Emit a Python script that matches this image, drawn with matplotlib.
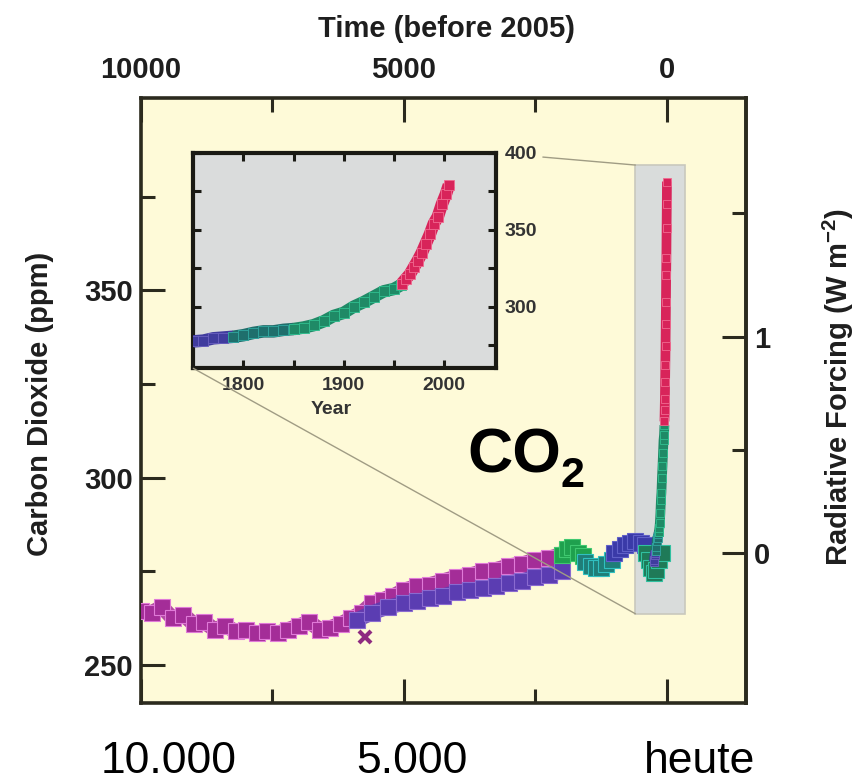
import numpy as np
import matplotlib.pyplot as plt
from matplotlib.patches import Rectangle, ConnectionPatch

plt.rcParams['font.family'] = ['Liberation Sans', 'DejaVu Sans']
plt.rcParams['mathtext.fontset'] = 'custom'
plt.rcParams['mathtext.rm'] = 'Liberation Sans'
plt.rcParams['mathtext.bf'] = 'Liberation Sans:bold'

# ---- Holocene ice-core CO2 (years before 2005, ppm) ----
magenta_t = [10000, 9800, 9600, 9400, 9200, 9000, 8800, 8600, 8400, 8200, 8000,
             7800, 7600, 7400, 7200, 7000, 6800, 6600, 6400, 6200, 6000, 5800,
             5600, 5400, 5200, 5000, 4750, 4500, 4250, 4000, 3750, 3500, 3250,
             3000, 2750, 2500, 2250, 2000, 1800]
magenta_ppm = [264.5, 264, 265.5, 262.5, 263.5, 261, 261.5, 259.5, 260.5, 259, 259.5,
               258.5, 259, 258.5, 259.5, 260.5, 261.5, 259.5, 260, 261, 262.5, 264,
               266.5, 267.5, 268.5, 270, 271, 271.5, 272.5, 273.5, 274, 275, 275.5,
               276.5, 277, 278, 278.5, 279.5, 280]
outlier_t = [5750]
outlier_ppm = [257.5]

purple_t = [5900, 5600, 5300, 5000, 4750, 4500, 4250, 4000, 3750, 3500, 3250,
            3000, 2750, 2500, 2250, 2000]
purple_ppm = [262, 264, 265.5, 266.5, 267, 268, 268.5, 269.5, 270, 270.5, 271,
              272, 272.5, 273.5, 274, 275]

green_t = [2000, 1900, 1800, 1700, 1600]
green_ppm = [279.5, 281, 281.5, 280, 279]

teal_t = [1550, 1450, 1350, 1250, 1150, 1050]
teal_ppm = [277.5, 276.5, 276, 276, 277, 278]

blue_t = [1000, 900, 800, 700, 600, 500, 420]
blue_ppm = [280, 281, 282, 282.5, 283, 282.5, 282]

dip_t = [400, 350, 300, 250, 200, 150, 100]
dip_ppm = [280, 278, 276, 274.5, 275.5, 278, 280]

# ---- industrial era (calendar year, ppm) ----
ice_early_yr = [1750, 1760, 1770, 1780, 1790]
ice_early_ppm = [277.5, 278, 279.5, 280, 280.5]
ice_mid_yr = [1790, 1800, 1810, 1820, 1830, 1840, 1850]
ice_mid_ppm = [280.5, 281.5, 283, 284, 284, 285, 285.5]
ice_late_yr = [1850, 1860, 1870, 1880, 1890, 1900, 1910, 1920, 1930, 1940, 1950, 1957]
ice_late_ppm = [285.5, 286.5, 288, 290.5, 294, 296, 300, 303, 306.5, 310, 311.5, 314]
mlo_yr = [1958, 1962, 1966, 1970, 1974, 1978, 1982, 1986, 1990, 1994, 1998, 2002, 2005]
mlo_ppm = [315, 318, 321, 325.5, 330, 335, 341, 347, 354, 358.5, 366.5, 373, 379]

rf_major = [0, 1]
rf_minor = [0.5, 1.5]
strip_t = (600, -350)
strip_ppm = (263.7, 383.4)

cream = '#fefad8'
dark = '#2b2a1e'

fig = plt.figure(figsize=(8.56, 7.83), dpi=100, facecolor='white')
ax = fig.add_axes([0.1647, 0.1022, 0.7068, 0.7727])
ax.set_facecolor(cream)
ax.set_xlim(10000, -1503)
ax.set_ylim(239.9, 401.3)

ax.add_patch(Rectangle((strip_t[0], strip_ppm[0]), strip_t[1] - strip_t[0],
                       strip_ppm[1] - strip_ppm[0], facecolor='#d9dcdb',
                       edgecolor='#c9c8bd', lw=1.2, zorder=1))

def band(a, t, v, color, edge, ms=12, z=3):
    a.plot(t, v, color=color, lw=ms * 0.9, solid_capstyle='butt', alpha=0.85, zorder=z)
    a.plot(t, v, 's', ms=ms, color=color, mec=edge, mew=0.8, ls='none', zorder=z + 0.1)

band(ax, magenta_t, magenta_ppm, '#a42d98', '#e07ad8')
ax.plot(outlier_t, outlier_ppm, 'x', ms=9, mew=3, color='#8e2a80', zorder=3)
band(ax, purple_t, purple_ppm, '#5b3db2', '#8a6ad0', z=4)
band(ax, green_t, green_ppm, '#1fa04e', '#40c870', z=5)
band(ax, teal_t, teal_ppm, '#1f7e78', '#30c0c0', z=5)
band(ax, blue_t, blue_ppm, '#3a3aa8', '#6060c8', z=5)
band(ax, dip_t, dip_ppm, '#1f7a58', '#30c0a0', z=5)

ind_sets = [(ice_early_yr, ice_early_ppm, '#403c9e', '#6a60c0'),
            (ice_mid_yr, ice_mid_ppm, '#1f6f6c', '#30a8a0'),
            (ice_late_yr, ice_late_ppm, '#1f8a66', '#30c090'),
            (mlo_yr, mlo_ppm, '#d8245a', '#f06a90')]
for yr, v, c, e in ind_sets:
    t = [2005 - y for y in yr]
    ax.plot(t, v, color=c, lw=7, solid_capstyle='butt', zorder=6)
    ax.plot(t, v, 's', ms=6, color=c, mec=e, mew=0.6, zorder=6)

for s in ax.spines.values():
    s.set_linewidth(2.6)
    s.set_color(dark)

ax.set_xticks([10000, 5000, 0])
ax.set_xticks([7500, 2500], minor=True)
ax.set_xticklabels(['10000', '5000', '0'])
ax.set_yticks([250, 300, 350])
ax.set_yticks([275, 325, 375], minor=True)
ax.tick_params(axis='x', which='both', direction='in', top=True, bottom=True,
               labeltop=True, labelbottom=False, pad=10)
ax.tick_params(axis='y', which='both', direction='in', left=True, right=False, pad=6)
ax.tick_params(which='major', length=17, width=2.2, color=dark,
               labelsize=21, labelcolor='#1e1e1e')
ax.tick_params(which='minor', length=10, width=2.2, color=dark)
for lab in ax.get_xticklabels() + ax.get_yticklabels():
    lab.set_fontweight('bold')

def to_rf(c):
    return 5.35 * np.log(np.clip(c, 1e-3, None) / 280.0)

def from_rf(f):
    return 280.0 * np.exp(np.asarray(f) / 5.35)

sec = ax.secondary_yaxis('right', functions=(to_rf, from_rf))
sec.set_yticks(rf_major)
sec.set_yticks(rf_minor, minor=True)
sec.set_yticklabels(['0', '1'])
sec.spines['right'].set_linewidth(2.6)
sec.spines['right'].set_color(dark)
sec.tick_params(which='both', direction='in', pad=6)
sec.tick_params(which='major', length=17, width=2.2, color=dark,
                labelsize=21, labelcolor='#1e1e1e')
sec.tick_params(which='minor', length=10, width=2.2, color=dark)
for lab in sec.get_yticklabels():
    lab.set_fontweight('bold')

# ---- inset ----
ins = fig.add_axes([0.2258, 0.5296, 0.3536, 0.2753])
ins.set_facecolor('#dadcdc')
ins.set_xlim(1750, 2052)
ins.set_ylim(260, 400)
for yr, v, c, e in ind_sets:
    ins.plot(yr, v, color=c, lw=9, solid_capstyle='butt', zorder=3)
    ins.plot(yr, v, 's', ms=7, color=c, mec=e, mew=0.6, zorder=3)
for s in ins.spines.values():
    s.set_linewidth(3)
    s.set_color('#1a1a14')
ins.set_xticks([1800, 1900, 2000])
ins.set_xticks([1850, 1950], minor=True)
ins.set_yticks([300, 350, 400])
ins.set_yticks([275, 325, 375], minor=True)
ins.tick_params(which='both', direction='in', top=True, bottom=True, left=True,
                right=True, labelleft=False, labelright=True, length=6, width=2.2,
                color='#1a1a14')
ins.tick_params(axis='both', which='major', labelsize=14, labelcolor='#333',
                pad=6)
for lab in ins.get_xticklabels() + ins.get_yticklabels():
    lab.set_fontweight('bold')
fig.text(331 / 856, 1 - 409 / 783, 'Year', ha='center', va='center',
         fontsize=14, fontweight='bold', color='#333')

for pa, pb in [((1.155, 0.98), (strip_t[0], strip_ppm[1])),
               ((0.0, 0.0), (strip_t[0], strip_ppm[0]))]:
    con = ConnectionPatch(xyA=pa, coordsA=ins.transAxes, xyB=pb, coordsB=ax.transData,
                          color='#a09c84', lw=1.0, zorder=2)
    fig.add_artist(con)

# ---- labels ----
fig.text(447 / 856, 1 - 29 / 783, 'Time (before 2005)', ha='center', va='center',
         fontsize=21, fontweight='bold', color='#1e1e1e')
fig.text(40 / 856, 1 - 404 / 783, 'Carbon Dioxide (ppm)', ha='center', va='center',
         rotation=90, fontsize=21, fontweight='bold', color='#1e1e1e')
fig.text(838 / 856, 1 - 387 / 783, r'Radiative Forcing (W m$^{\mathbf{-2}}$)',
         ha='center', va='center', rotation=90, fontsize=21, fontweight='bold',
         color='#1e1e1e')
fig.text(467 / 856, 1 - 473 / 783, 'CO', ha='left', va='baseline',
         fontsize=45, fontweight='bold')
fig.text(560 / 856, 1 - 487 / 783, '2', ha='left', va='baseline',
         fontsize=31, fontweight='bold')

for x, s in [(169, '10.000'), (412, '5.000'), (700, 'heute')]:
    fig.text(x / 856, 1 - 773 / 783, s, ha='center', va='baseline', fontsize=32)

fig.savefig('out.png', dpi=100, facecolor='white')
